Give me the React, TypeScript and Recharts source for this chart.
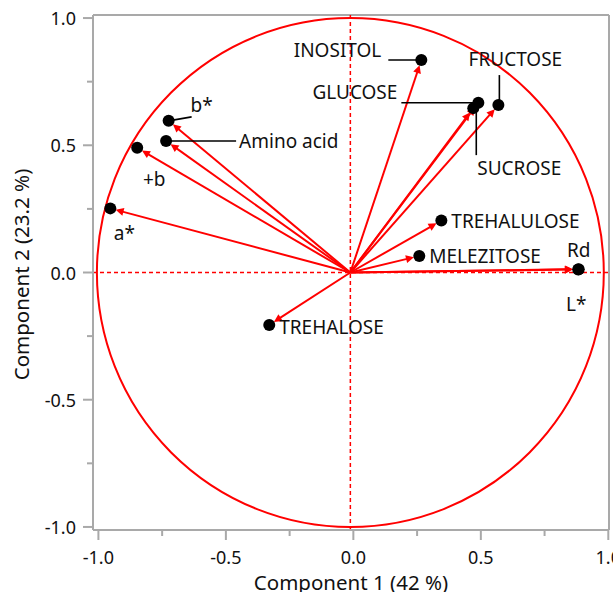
import React from 'react';
import { ScatterChart, Scatter, XAxis, YAxis, ReferenceLine, Label } from 'recharts';

// ---- data ----
const variables = ['INOSITOL', 'GLUCOSE', 'SUCROSE', 'FRUCTOSE', 'TREHALULOSE', 'MELEZITOSE', 'Rd', 'L*', 'TREHALOSE', 'a*', '+b', 'Amino acid', 'b*'];
const component1 = [0.280, 0.505, 0.485, 0.584, 0.359, 0.272, 0.901, 0.899, -0.320, -0.947, -0.841, -0.727, -0.717];
const component2 = [0.835, 0.667, 0.646, 0.658, 0.204, 0.065, 0.013, 0.012, -0.206, 0.252, 0.490, 0.517, 0.596];
const axisTicks = [-1, -0.75, -0.5, -0.25, 0, 0.25, 0.5, 0.75, 1];
const xTitle = 'Component 1 (42 %)';
const yTitle = 'Component 2 (23.2 %)';

// ---- styling (label placement in px relative to the point) ----
type LabelCfg = { dx: number; dy: number; anchor: 'start' | 'middle' | 'end'; leader?: [number, number, number, number] };
const labelCfg: Record<string, LabelCfg> = {
  'INOSITOL': { dx: -40, dy: -10, anchor: 'end', leader: [-33, 0, 0, 0] },
  'GLUCOSE': { dx: -81, dy: -11, anchor: 'end', leader: [-77, 0, 0, 0] },
  'SUCROSE': { dx: 4, dy: 60, anchor: 'start', leader: [3, 0, 3, 47] },
  'FRUCTOSE': { dx: 17, dy: -46, anchor: 'middle', leader: [1, -30, 1, 0] },
  'TREHALULOSE': { dx: 10, dy: 0, anchor: 'start' },
  'MELEZITOSE': { dx: 10, dy: 0, anchor: 'start' },
  'Rd': { dx: 0, dy: -19, anchor: 'middle' },
  'L*': { dx: -2, dy: 35, anchor: 'middle' },
  'TREHALOSE': { dx: 10, dy: 2, anchor: 'start' },
  'a*': { dx: 14, dy: 25, anchor: 'middle' },
  '+b': { dx: 17, dy: 31, anchor: 'middle' },
  'Amino acid': { dx: 73, dy: 0, anchor: 'start', leader: [0, 0, 70, 0] },
  'b*': { dx: 33, dy: -16, anchor: 'middle', leader: [0, 0, 23, -4] },
};

const FONT = '"Noto Sans", "Open Sans", sans-serif';
const RED = '#ff0000';
const GRAY = '#a9a9a9';
const TEXT = '#111';
const LABEL_SIZE = 19;
const TICK_SIZE = 18;
const TITLE_SIZE = 20.5;

const points = variables.map((name, i) => ({ name, x: component1[i], y: component2[i] }));

const isMajor = (v: number) => Math.abs(v * 2 - Math.round(v * 2)) < 1e-6;

const XTick = (p: any) => {
  const { x, y, payload } = p;
  const v = payload.value as number;
  const major = isMajor(v);
  const xx = x + 3 + 1.5 * v;
  return (
    <g>
      <line x1={xx} x2={xx} y1={y} y2={y + (major ? 10 : 6)} stroke={GRAY} strokeWidth={2} />
      {major && (
        <text x={xx} y={y + 27} textAnchor="middle" dominantBaseline="central" fontFamily={FONT} fontSize={TICK_SIZE} fill={TEXT}>
          {v.toFixed(1)}
        </text>
      )}
    </g>
  );
};

const YTick = (p: any) => {
  const { x, y, payload } = p;
  const v = payload.value as number;
  const major = isMajor(v);
  return (
    <g>
      <line x1={x} x2={x - (major ? 10 : 6)} y1={y} y2={y} stroke={GRAY} strokeWidth={2} />
      {major && (
        <text x={x - 17} y={y} textAnchor="end" dominantBaseline="central" fontFamily={FONT} fontSize={TICK_SIZE} fill={TEXT}>
          {v.toFixed(1)}
        </text>
      )}
    </g>
  );
};

const Arrow = (p: any) => {
  const x1 = Number(p.x1), y1 = Number(p.y1), x2 = Number(p.x2), y2 = Number(p.y2);
  const dx = x2 - x1, dy = y2 - y1;
  const len = Math.hypot(dx, dy) || 1;
  const ux = dx / len, uy = dy / len;
  const tipX = x2 - ux * 5.5, tipY = y2 - uy * 5.5;
  const bx = tipX - ux * 8, by = tipY - uy * 8;
  const nx = -uy, ny = ux;
  return (
    <g>
      <line x1={x1} y1={y1} x2={bx + ux * 2} y2={by + uy * 2} stroke={RED} strokeWidth={2} />
      <polygon points={`${tipX},${tipY} ${bx + nx * 4},${by + ny * 4} ${bx - nx * 4},${by - ny * 4}`} fill={RED} />
    </g>
  );
};

const UnitCircle = (p: any) => {
  const x1 = Number(p.x1), y1 = Number(p.y1), x2 = Number(p.x2), y2 = Number(p.y2);
  return <ellipse cx={x1} cy={y1} rx={Math.abs(x2 - x1)} ry={Math.abs(y1 - y2)} fill="none" stroke={RED} strokeWidth={2} />;
};

const PointShape = (p: any) => {
  const { cx, cy, payload } = p;
  const cfg = labelCfg[payload.name];
  return (
    <g>
      {cfg && cfg.leader && (
        <line x1={cx + cfg.leader[0]} y1={cy + cfg.leader[1]} x2={cx + cfg.leader[2]} y2={cy + cfg.leader[3]} stroke="#000" strokeWidth={1.6} />
      )}
      <circle cx={cx} cy={cy} r={6} fill="#000" />
      {cfg && (
        <text x={cx + cfg.dx} y={cy + cfg.dy} textAnchor={cfg.anchor} dominantBaseline="central" fontFamily={FONT} fontSize={LABEL_SIZE} fill={TEXT}>
          {payload.name}
        </text>
      )}
    </g>
  );
};

const XTitle = (p: any) => {
  const vb = p.viewBox || {};
  return (
    <text x={vb.x + vb.width / 2} y={590} textAnchor="middle" fontFamily={FONT} fontSize={TITLE_SIZE} fill={TEXT}>
      {xTitle}
    </text>
  );
};

const YTitle = (p: any) => {
  const vb = p.viewBox || {};
  const cy = vb.y + vb.height / 2 + 2;
  return (
    <text x={21} y={cy} transform={`rotate(-90, 21, ${cy})`} textAnchor="middle" dominantBaseline="central" fontFamily={FONT} fontSize={TITLE_SIZE} fill={TEXT}>
      {yTitle}
    </text>
  );
};

const X_DOMAIN: [number, number] = [-1.0154, 1.0205];
const Y_DOMAIN: [number, number] = [-1.012, 1.012];

export default function App() {
  return (
    <div style={{ position: 'absolute', left: 0, top: 0, background: '#fff' }}>
      <ScatterChart width={613} height={592} margin={{ top: 15, right: 4, bottom: 0, left: 0 }}>
        <XAxis
          dataKey="x"
          type="number"
          domain={X_DOMAIN}
          allowDataOverflow
          ticks={axisTicks}
          interval={0}
          tick={<XTick />}
          tickLine={false}
          tickSize={0}
          tickMargin={0}
          height={62}
          axisLine={{ stroke: GRAY, strokeWidth: 2 }}
        >
          <Label content={<XTitle />} />
        </XAxis>
        <YAxis
          dataKey="y"
          type="number"
          domain={Y_DOMAIN}
          allowDataOverflow
          ticks={axisTicks}
          interval={0}
          tick={<YTick />}
          tickLine={false}
          tickSize={0}
          tickMargin={0}
          width={93}
          axisLine={{ stroke: GRAY, strokeWidth: 2 }}
        >
          <Label content={<YTitle />} />
        </YAxis>
        <ReferenceLine y={Y_DOMAIN[1]} stroke={GRAY} strokeWidth={2} ifOverflow="visible" />
        <ReferenceLine x={X_DOMAIN[1]} stroke={GRAY} strokeWidth={2} ifOverflow="visible" />
        <ReferenceLine x={0} stroke={RED} strokeWidth={1.5} strokeDasharray="4 3" />
        <ReferenceLine y={0} stroke={RED} strokeWidth={1.5} strokeDasharray="4 3" />
        <ReferenceLine segment={[{ x: 0, y: 0 }, { x: 1, y: 1 }]} shape={UnitCircle} ifOverflow="visible" />
        {points.map((pt) => (
          <ReferenceLine key={pt.name} segment={[{ x: 0, y: 0 }, { x: pt.x, y: pt.y }]} shape={Arrow} ifOverflow="visible" />
        ))}
        <Scatter data={points} shape={PointShape} isAnimationActive={false} />
      </ScatterChart>
    </div>
  );
}
